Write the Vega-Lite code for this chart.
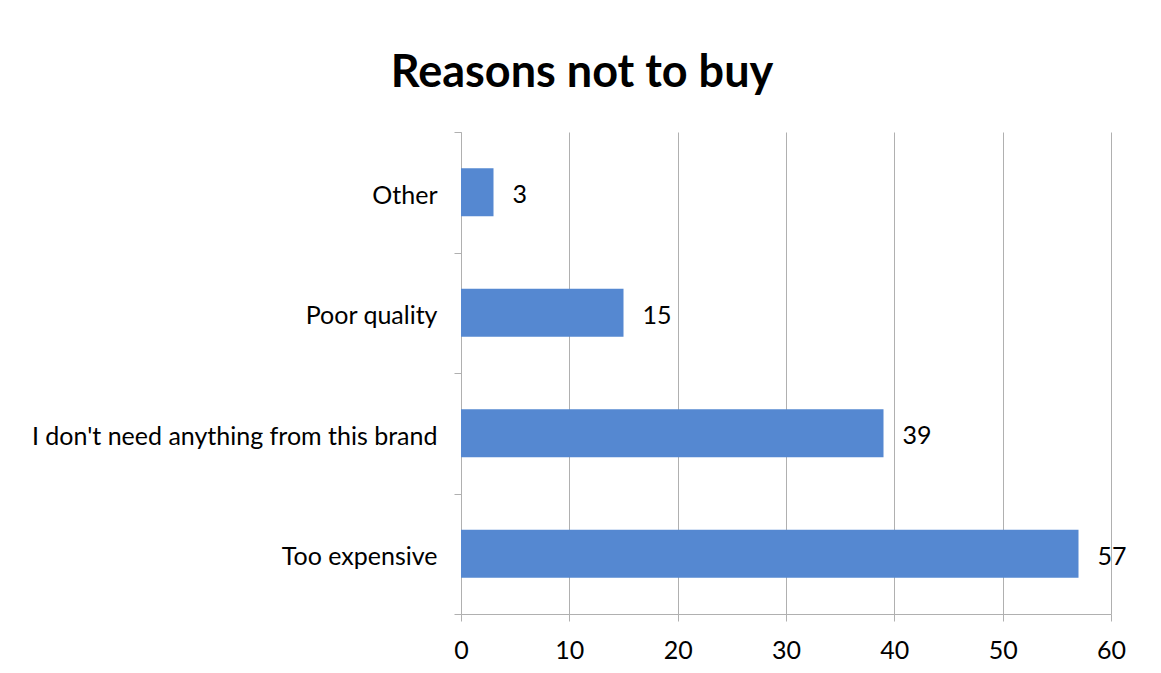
{
  "$schema": "https://vega.github.io/schema/vega-lite/v6.json",
  "width": 650,
  "height": 482,
  "autosize": {"type": "none"},
  "padding": {"left": 461, "top": 132, "right": 50, "bottom": 59},
  "background": "white",
  "title": {"text": "Reasons not to buy", "font": "Lato", "fontSize": 45, "fontWeight": "bold", "color": "black", "anchor": "middle", "dx": -204, "offset": 24},
  "data": {"values": [
    {"reason": "Other", "count": 3},
    {"reason": "Poor quality", "count": 15},
    {"reason": "I don't need anything from this brand", "count": 39},
    {"reason": "Too expensive", "count": 57}
  ]},
  "config": {"view": {"stroke": null}, "font": "Lato"},
  "encoding": {
    "y": {"field": "reason", "type": "nominal", "sort": null, "title": null,
      "scale": {"paddingInner": 0, "paddingOuter": 0},
      "axis": {"tickBand": "extent", "grid": false, "tickSize": 7, "tickColor": "#b0b0b0", "domainColor": "#b0b0b0", "labelFontSize": 25, "labelColor": "black", "labelPadding": 17, "labelOffset": 3, "labelFont": "Lato", "labelLimit": 500}},
    "x": {"field": "count", "type": "quantitative", "title": null,
      "scale": {"domain": [0, 60], "nice": false},
      "axis": {"values": [0, 10, 20, 30, 40, 50, 60], "grid": true, "gridColor": "#b0b0b0", "tickSize": 7, "tickColor": "#b0b0b0", "domainColor": "#b0b0b0", "labelFontSize": 25, "labelColor": "black", "labelPadding": 17, "labelFont": "Lato", "labelFlush": false}}
  },
  "layer": [
    {"mark": {"type": "bar", "color": "#5588d1", "height": {"band": 0.4}}},
    {"mark": {"type": "text", "align": "left", "dx": 19, "dy": 3, "fontSize": 25, "color": "black", "font": "Lato"}, "encoding": {"text": {"field": "count", "type": "quantitative"}}}
  ]
}
